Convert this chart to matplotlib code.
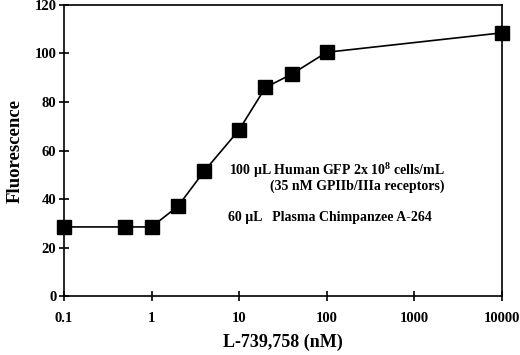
import matplotlib
matplotlib.use("Agg")
import matplotlib.pyplot as plt
from matplotlib.ticker import FixedLocator, FixedFormatter, NullLocator

conc_nM = [0.1, 0.5, 1, 2, 4, 10, 20, 40, 100, 10000]
fluorescence = [28.5, 28.5, 28.5, 37, 51.5, 68.5, 86, 91.5, 100.5, 108.5]
x_ticks = [0.1, 1, 10, 100, 1000, 10000]
x_tick_labels = ["0.1", "1", "10", "100", "1000", "10000"]
y_ticks = [0, 20, 40, 60, 80, 100, 120]

plt.rcParams['font.family'] = ['Liberation Serif', 'DejaVu Serif']
plt.rcParams['font.weight'] = 'bold'
plt.rcParams['mathtext.fontset'] = 'custom'
plt.rcParams['mathtext.rm'] = 'Liberation Serif:bold'
plt.rcParams['mathtext.bf'] = 'Liberation Serif:bold'
plt.rcParams['mathtext.it'] = 'Liberation Serif:bold'

fig = plt.figure(figsize=(5.2, 3.55), dpi=100)
ax = fig.add_axes([0.123, 0.166, 0.842, 0.820])

ax.plot(conc_nM, fluorescence, color='black', lw=1.2, marker='s', ms=10.5,
        mfc='black', mec='black', clip_on=False, zorder=5)
ax.set_xscale('log')
ax.set_xlim(0.1, 10000)
ax.set_ylim(0, 120)
ax.xaxis.set_major_locator(FixedLocator(x_ticks))
ax.xaxis.set_major_formatter(FixedFormatter(x_tick_labels))
ax.xaxis.set_minor_locator(NullLocator())
ax.set_yticks(y_ticks)

for s in ax.spines.values():
    s.set_linewidth(1.2)
ax.tick_params(axis='both', direction='inout', length=7, width=1.2,
               labelsize=10.5)
ax.tick_params(axis='x', pad=8)
ax.tick_params(axis='y', pad=2)
for lab in ax.get_xticklabels() + ax.get_yticklabels():
    lab.set_fontweight('bold')

ax.set_xlabel("L-739,758 (nM)", fontsize=13, fontweight='bold', labelpad=6)
ax.set_ylabel("Fluorescence", fontsize=13.5, fontweight='bold', labelpad=8)

fs = 10
fig.text(229 / 520, 1 - 171 / 355, "100 µL Human GFP 2x 10$^{8}$ cells/mL",
         fontsize=fs, fontweight='bold', va='center', ha='left')
fig.text(270 / 520, 1 - 186 / 355, "(35 nM GPIIb/IIIa receptors)",
         fontsize=fs, fontweight='bold', va='center', ha='left')
fig.text(228 / 520, 1 - 218 / 355, "60 µL   Plasma Chimpanzee A-264",
         fontsize=fs, fontweight='bold', va='center', ha='left')

fig.savefig("out.png", dpi=100)
